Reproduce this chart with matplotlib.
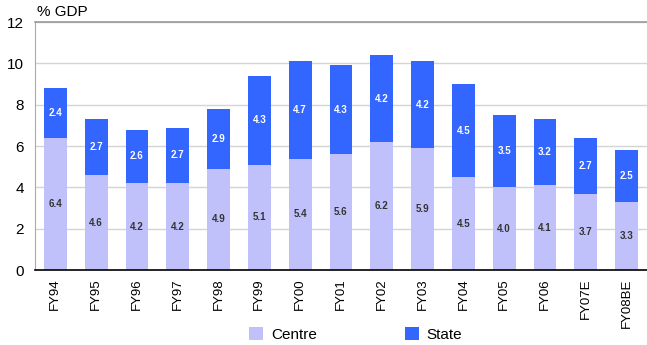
import matplotlib.pyplot as plt
import numpy as np

plt.rcParams['font.family'] = ['Liberation Sans', 'DejaVu Sans']

years = ["FY94", "FY95", "FY96", "FY97", "FY98", "FY99", "FY00", "FY01",
         "FY02", "FY03", "FY04", "FY05", "FY06", "FY07E", "FY08BE"]
centre = [6.4, 4.6, 4.2, 4.2, 4.9, 5.1, 5.4, 5.6, 6.2, 5.9, 4.5, 4.0, 4.1, 3.7, 3.3]
state = [2.4, 2.7, 2.6, 2.7, 2.9, 4.3, 4.7, 4.3, 4.2, 4.2, 4.5, 3.5, 3.2, 2.7, 2.5]

c_centre = "#c0c0fa"
c_state = "#3366ff"

fig = plt.figure(figsize=(6.47, 3.45), dpi=100)
ax = fig.add_axes([0.054, 0.217, 0.946, 0.719])

x = np.arange(len(years))
w = 0.56
b1 = ax.bar(x, centre, w, color=c_centre, label="Centre", zorder=2)
b2 = ax.bar(x, state, w, bottom=centre, color=c_state, label="State", zorder=2)

for i in range(len(years)):
    ax.text(x[i], centre[i] / 2, "%.1f" % centre[i], ha="center", va="center",
            fontsize=7, color="#333333", fontweight="bold", zorder=3)
    ax.text(x[i], centre[i] + state[i] / 2, "%.1f" % state[i], ha="center",
            va="center", fontsize=7, color="white", fontweight="bold", zorder=3)

ax.set_xlim(-0.5, len(years) - 0.5)
ax.set_ylim(0, 12)
ax.set_yticks(range(0, 13, 2))
ax.set_xticks(x)
ax.set_xticklabels(years, rotation=90, fontsize=9.5)
ax.tick_params(axis="y", labelsize=11, length=0, pad=8)
ax.tick_params(axis="x", length=0, pad=6)
ax.yaxis.grid(True, color="#d4d4d4", linewidth=1, zorder=0)
ax.set_axisbelow(True)

ax.spines["top"].set_color("#999999")
ax.spines["top"].set_linewidth(1.2)
ax.spines["right"].set_visible(False)
ax.spines["left"].set_color("#aaaaaa")
ax.spines["bottom"].set_color("black")
ax.spines["bottom"].set_linewidth(1.2)

fig.text(0.057, 0.965, "% GDP", fontsize=11, ha="left", va="center")

fig.legend(handles=[b1, b2], loc="lower center", bbox_to_anchor=(0.55, -0.03),
           ncol=2, frameon=False, fontsize=11, handlelength=0.9,
           handleheight=0.9, columnspacing=5.8, handletextpad=0.5)

fig.savefig("out.png", dpi=100)
